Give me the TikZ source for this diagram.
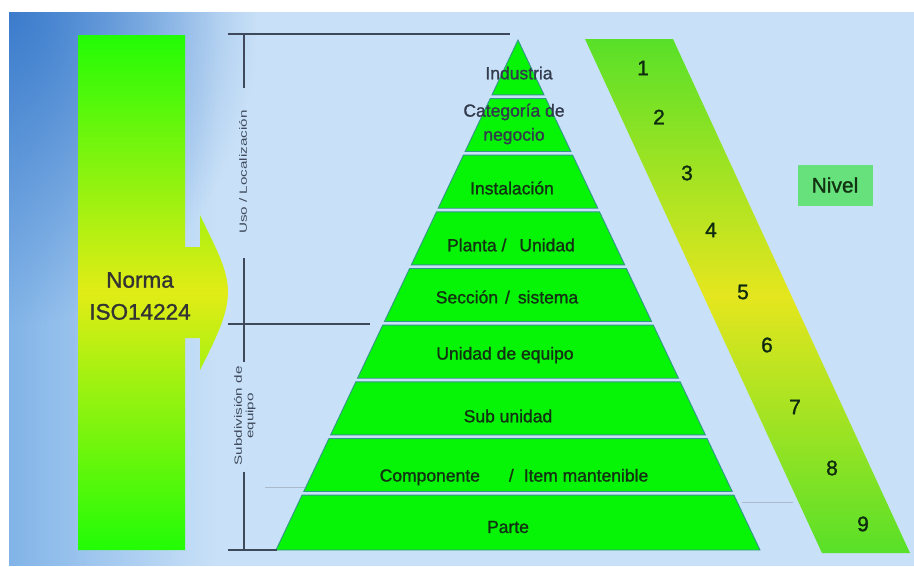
\documentclass[tikz,border=0pt]{standalone}
\usepackage{fontspec}
\setmainfont{Liberation Sans}
\newfontfamily\heavysans[FakeBold=1.2]{Liberation Sans}
\usetikzlibrary{fadings}
\tikzfading[name=cornerfade, inner color=transparent!0, outer color=transparent!100]
\definecolor{bgblue}{RGB}{201,225,248}
\definecolor{edgeblue}{RGB}{60,124,204}
\definecolor{edgeblue2}{RGB}{130,180,232}
\definecolor{arrgreen}{RGB}{34,252,6}
\definecolor{arryellow}{RGB}{226,236,22}
\definecolor{slantgreen}{RGB}{88,224,40}
\definecolor{slantyellow}{RGB}{229,230,30}
\definecolor{bandgreen}{RGB}{6,244,6}
\definecolor{bandedge}{RGB}{52,150,140}
\definecolor{txtgreen}{RGB}{18,50,18}
\definecolor{txtslate}{RGB}{50,58,76}
\definecolor{linegray}{RGB}{62,74,92}
\definecolor{faintline}{RGB}{170,186,204}
\definecolor{nivelfill}{RGB}{102,225,124}
\begin{document}
\begin{tikzpicture}[x=1pt,y=-1pt,
  bandtxt/.style={font=\heavysans\fontsize{17.5}{24}\selectfont, text=txtgreen, inner sep=0pt, align=center},
  numtxt/.style={font=\heavysans\fontsize{21}{24}\selectfont, text=txtgreen!85!black, inner sep=0pt},
  sidetxt/.style={font=\fontsize{10.5}{12.5}\selectfont, text=linegray, inner sep=0pt, rotate=90},
  bracket/.style={draw=linegray, line width=1.5pt},
  band/.style={fill=bandgreen, draw=bandedge, line width=0.9pt, line join=miter}]

\useasboundingbox (0,0) rectangle (914,566);
\fill[white] (0,0) rectangle (914,566);
\fill[bgblue] (9,12) rectangle (914,566);
% blue wash along the left edge, darkest in the upper corner
\begin{scope}
  \clip (9,12) rectangle (914,566);
  \fill[edgeblue2, path fading=east] (9,12) rectangle (215,566);
  \fill[edgeblue, path fading=cornerfade] (-240,-300) rectangle (258,324);
\end{scope}

% "Norma" arrow with its green-yellow-green gradient
\shade[top color=arrgreen, bottom color=arrgreen, middle color=arryellow]
  (78,35) -- (185,35) -- (185,247) -- (200,247) -- (200,215)
  .. controls (214,245) and (228,268) .. (228,292)
  .. controls (228,316) and (214,342) .. (200,370)
  -- (200,338) -- (185,338) -- (185,550) -- (78,550) -- cycle;
\node[font=\heavysans\fontsize{22.5}{32}\selectfont, text=black!80, align=center, inner sep=0pt]
  (norma) at (140,296) {Norma\\ISO14224};

% slanted level band
\shade[top color=slantgreen, bottom color=slantgreen, middle color=slantyellow]
  (585,39) -- (673,39) -- (910,553) -- (822,553) -- cycle;

% pyramid bands
\foreach \i in {0,...,8}{
  \pgfmathsetmacro\yt{40+\i*56.667+(\i>0)*1.8}
  \pgfmathsetmacro\yb{40+(\i+1)*56.667-(\i<8)*1.8}
  \pgfmathsetmacro\wt{(\yt-40)*0.4745}
  \pgfmathsetmacro\wb{(\yb-40)*0.4745}
  \draw[band] (518-\wt,\yt) -- (518+\wt,\yt) -- (518+\wb,\yb) -- (518-\wb,\yb) -- cycle;
}

% faint guide lines
\draw[faintline, line width=0.5pt] (265,487) -- (305,487);
\draw[faintline, line width=0.5pt] (742,502) -- (793,502);

% band labels
\node[bandtxt, text=txtslate] (industria) at (519,73) {Industria};
\node[bandtxt, text=txtslate] (categoria) at (514,124) {Categoría de\\negocio};
\node[bandtxt] (instalacion) at (512,188) {Instalación};
\node[bandtxt] (planta) at (511,245) {Planta /\hspace{13pt}Unidad};
\node[bandtxt] (seccion) at (507,297) {Sección\hspace{7pt}/\hspace{8pt}sistema};
\node[bandtxt] (unidadeq) at (505,355) {Unidad de equipo};
\node[bandtxt] (subunidad) at (508,416) {Sub unidad};
\node[bandtxt] (componente) at (514,477) {Componente\hspace{29pt}/\hspace{10pt}Item mantenible};
\node[bandtxt] (parte) at (508,527) {Parte};

% brackets on the left
\coordinate (topL) at (228,34);
\coordinate (topR) at (510,34);
\coordinate (midL) at (228,324);
\coordinate (midR) at (370,324);
\coordinate (botL) at (228,550);
\coordinate (botR) at (277,550);
\coordinate (v1) at (244,34);
\coordinate (v2) at (244,88);
\coordinate (v3) at (244,258);
\coordinate (v4) at (244,362);
\coordinate (v5) at (244,472);
\coordinate (v6) at (244,550);
\draw[bracket] (topL) -- (topR);
\draw[bracket] (midL) -- (midR);
\draw[bracket] (botL) -- (botR);
\draw[bracket] (v1) -- (v2);
\draw[bracket] (v3) -- (v4);
\draw[bracket] (v5) -- (v6);
\node[sidetxt] (uso) at (243,172) {\scalebox{1.45}[1]{Uso / Localización}};
\node[sidetxt] (subdiv) at (245,416)
  {\scalebox{1.45}[1]{\begin{tabular}{@{}c@{}}Subdivisión de\\[-1pt]equipo\end{tabular}}};

% level numbers
\node[numtxt] (n1) at (643,68) {1};
\node[numtxt] (n2) at (659,117) {2};
\node[numtxt] (n3) at (687,173) {3};
\node[numtxt] (n4) at (711,230) {4};
\node[numtxt] (n5) at (743,292) {5};
\node[numtxt] (n6) at (767,345) {6};
\node[numtxt] (n7) at (795,407) {7};
\node[numtxt] (n8) at (832,468) {8};
\node[numtxt] (n9) at (863,524) {9};

\node[fill=nivelfill, minimum width=75pt, minimum height=41pt, inner sep=0pt,
  font=\heavysans\fontsize{21}{24}\selectfont, text=txtgreen] (nivel) at (835,185) {Nivel};
\end{tikzpicture}
\end{document}
